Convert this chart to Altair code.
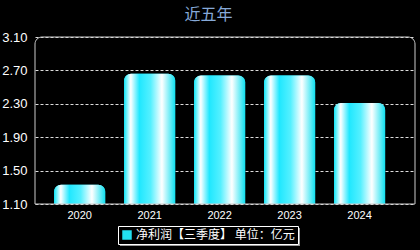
import altair as alt
import pandas as pd

years = ["2020", "2021", "2022", "2023", "2024"]
values = [1.33, 2.66, 2.64, 2.64, 2.31]
series_name = "净利润【三季度】 单位：亿元"
y_ticks = [1.1, 1.5, 1.9, 2.3, 2.7, 3.1]
y_min, y_max = 1.1, 3.1

df = pd.DataFrame({"year": years, "value": values, "series": [series_name] * len(years)})

W, H = 380, 167

x_enc = alt.X("year:N", title=None, sort=years,
              scale=alt.Scale(paddingInner=0.27, paddingOuter=0.35, align=0.39),
              axis=alt.Axis(labelAngle=0, ticks=False, domain=False, labelColor="white",
                            labelFontSize=11, labelFont="Liberation Sans", labelPadding=5))
y_enc = alt.Y("value:Q", title=None,
              scale=alt.Scale(domain=[y_min, y_max], nice=False, zero=False),
              axis=alt.Axis(values=y_ticks, format=".2f", ticks=False, domain=False,
                            labelColor="white", labelFontSize=13, labelFont="Liberation Sans",
                            labelPadding=8, labelOverlap=False, labelBound=False,
                            labelFlush=False, grid=True,
                            gridColor="#dddddd", gridDash=[3, 2], gridWidth=1))

grad = alt.LinearGradient(
    gradient="linear", x1=0, x2=1, y1=0, y2=0,
    stops=[
        alt.GradientStop(offset=0, color="#10e6f8"),
        alt.GradientStop(offset=0.13, color="#ffffff"),
        alt.GradientStop(offset=0.3, color="#20e8ff"),
        alt.GradientStop(offset=0.52, color="#55f0ff"),
        alt.GradientStop(offset=0.74, color="#ffffff"),
        alt.GradientStop(offset=1, color="#10e0f0"),
    ],
)

bars = alt.Chart(df).encode(x=x_enc, y=y_enc, y2=alt.datum(y_min))

base_bar = bars.mark_bar(cornerRadiusTopLeft=7, cornerRadiusTopRight=7).encode(
    color=alt.Color("series:N", scale=alt.Scale(range=["#22e0f0"]),
                    legend=alt.Legend(title=None, orient="none", legendX=83, legendY=189,
                                      symbolType="square", symbolSize=90, symbolStrokeWidth=0,
                                      labelColor="white", labelFontSize=12,
                                      labelFont="Noto Sans CJK SC", labelOffset=3,
                                      padding=3, strokeColor="white", fillColor="black",
                                      zindex=1))
)
grad_bar = bars.mark_bar(cornerRadiusTopLeft=7, cornerRadiusTopRight=7, color=grad)

one = pd.DataFrame({"k": [0]})
frame = alt.Chart(one).mark_rect(fill=None, stroke="#cccccc", strokeWidth=1,
                                 cornerRadiusTopLeft=7, cornerRadiusTopRight=7).encode(
    x=alt.value(0), x2=alt.value(W), y=alt.value(0), y2=alt.value(H)
)
shadow = alt.Chart(one).mark_rect(fill="#999999").encode(
    x=alt.value(85), x2=alt.value(265), y=alt.value(191), y2=alt.value(209)
)

chart = alt.layer(shadow, base_bar, grad_bar, frame).properties(
    width=W, height=H,
    autosize=alt.AutoSizeParams(type="none"),
    padding={"left": 35, "top": 37, "right": 5, "bottom": 46},
    background="black",
    title=alt.TitleParams("近五年", color="#86a9d8", fontSize=16, font="Noto Sans CJK SC",
                          fontWeight="normal", anchor="middle", frame="bounds", offset=8),
).configure_view(stroke=None)

chart.save("out.html", embed_options={"renderer": "svg", "actions": False})
